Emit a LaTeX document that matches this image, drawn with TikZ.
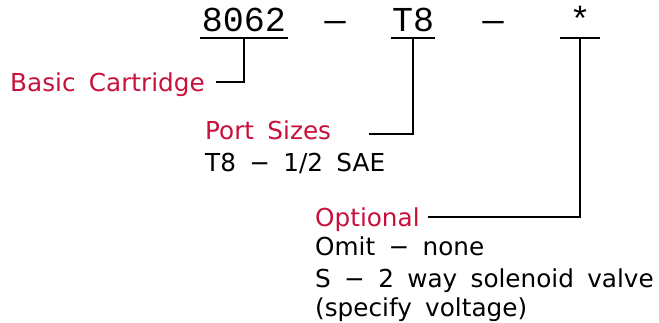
\documentclass[tikz,border=0pt]{standalone}
\usepackage{fontspec}
\newfontfamily\labelfont[WordSpace=1.7]{DejaVu Sans}
\newfontfamily\codefont{Liberation Mono}
\definecolor{partred}{RGB}{200,16,60}
\begin{document}
\begin{tikzpicture}[x=1pt, y=-1pt,
  codebox/.style={anchor=base, inner xsep=0pt, inner ysep=7pt, text depth=0pt,
    font=\codefont\fontsize{35}{40}\selectfont},
  lbl/.style={anchor=base west, inner sep=0pt, text height=18pt, text depth=0pt,
    font=\labelfont\fontsize{24.7}{30}\selectfont},
  head/.style={lbl, text=partred},
  lead/.style={line width=1.8pt}]
  \useasboundingbox (0,0) rectangle (659,322);
  % Part number fields with their underlines
  \node[codebox, minimum width=88pt] (code) at (244,31) {8062};
  \node[codebox] (dasha) at (335,31) {—};
  \node[codebox, minimum width=44pt] (ports) at (413,31) {T8};
  \node[codebox] (dashb) at (493,31) {—};
  \node[codebox, minimum width=40pt] (opt) at (580,31) {*};
  \foreach \f in {code, ports, opt}
    \draw[lead] (\f.south west) -- (\f.south east);
  % Basic cartridge
  \node[head] (basic) at (10,91) {Basic Cartridge};
  \draw[lead] (code.south) |- ([xshift=11pt]basic.east);
  % Port sizes
  \node[head] (portlbl) at (205,139) {Port Sizes};
  \node[lbl] (portt8) at (205,171) {T8 − 1/2 SAE};
  \draw[lead] (ports.south) |- ([xshift=38pt, yshift=-4pt]portlbl.east);
  % Optional
  \node[head] (optlbl) at (315,226) {Optional};
  \node[lbl] (omit) at (315,255) {Omit − none};
  \node[lbl] (sol) at (315,287) {S − 2 way solenoid valve};
  \node[lbl] (volt) at (315,316) {(specify voltage)};
  \draw[lead] (opt.south) |- ([xshift=8pt]optlbl.east);
\end{tikzpicture}
\end{document}
